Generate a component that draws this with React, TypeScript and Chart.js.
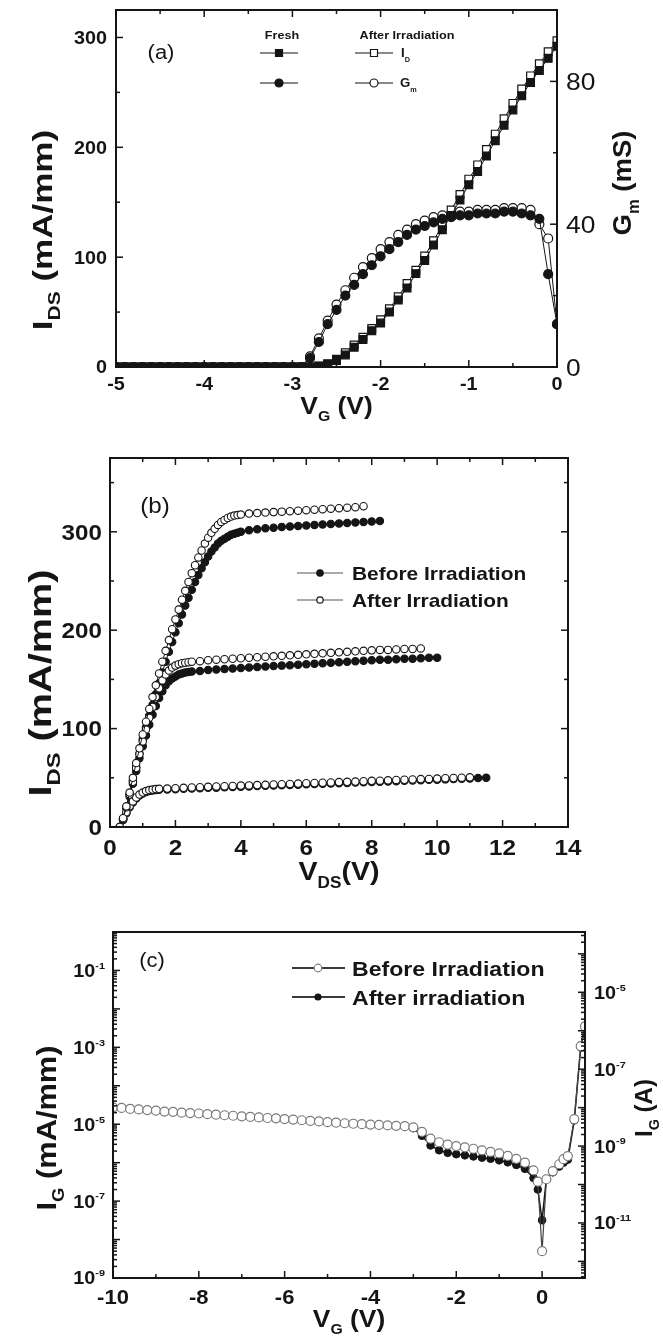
import React, { useEffect, useRef } from 'react';
import { Chart, registerables } from 'chart.js';

Chart.register(...registerables);

const FONT = '"Liberation Sans", Arial, Helvetica, sans-serif';
const INK = '#151515';
const SX = 1.1;

// ---------------- Panel (a): transfer characteristics ----------------
const A_VG = [-5, -4.9, -4.8, -4.7, -4.6, -4.5, -4.4, -4.3, -4.2, -4.1, -4, -3.9, -3.8, -3.7, -3.6, -3.5, -3.4, -3.3, -3.2, -3.1, -3, -2.9, -2.8, -2.7, -2.6, -2.5, -2.4, -2.3, -2.2, -2.1, -2, -1.9, -1.8, -1.7, -1.6, -1.5, -1.4, -1.3, -1.2, -1.1, -1, -0.9, -0.8, -0.7, -0.6, -0.5, -0.4, -0.3, -0.2, -0.1, 0];
const A_ID_FRESH = [0, 0, 0, 0, 0, 0, 0, 0, 0, 0, 0, 0, 0, 0, 0, 0, 0, 0, 0, 0, 0, 0, 0, 0.8, 2.5, 6, 11, 18, 25, 33, 40, 50, 61, 72, 85, 97, 111, 125, 138, 152, 166, 178, 192, 206, 220, 234, 247, 259, 270, 281, 292];
const A_ID_AFTER = [0, 0, 0, 0, 0, 0, 0, 0, 0, 0, 0, 0, 0, 0, 0, 0, 0, 0, 0, 0, 0, 0, 0, 1, 3, 7, 13, 20, 27, 35, 43, 53, 64, 76, 88, 101, 115, 129, 143, 157, 171, 184, 198, 212, 226, 240, 253, 265, 276, 287, 297];
const A_GM_FRESH = [0, 0, 0, 0, 0, 0, 0, 0, 0, 0, 0, 0, 0, 0, 0, 0, 0, 0, 0, 0, 0, 0, 2.5, 7, 12, 16, 20, 23, 26, 28.5, 31, 33, 35, 37, 38.5, 39.5, 40.5, 41.5, 42, 42.5, 42.5, 43, 43, 43, 43.5, 43.5, 43, 42.5, 41.5, 26, 12];
const A_GM_AFTER = [0, 0, 0, 0, 0, 0, 0, 0, 0, 0, 0, 0, 0, 0, 0, 0, 0, 0, 0, 0, 0, 0, 3, 8, 13, 17.5, 21.5, 25, 28, 30.5, 33, 35, 37, 38.5, 40, 41, 42, 42.5, 43, 43.5, 43.5, 44, 44, 44, 44.5, 44.5, 44.5, 44, 40, 36, 12];
const A_X_LABELS = [-5, -4, -3, -2, -1, 0];
const A_Y_LABELS = [0, 100, 200, 300];
const A_Y2_LABELS = [0, 40, 80];

// ---------------- Panel (b): output characteristics ----------------
// readings on the steep (linear) part of the curves
const B_VDS_RISE = [0.3, 0.4, 0.5, 0.6, 0.7, 0.8, 0.9, 1.0, 1.1, 1.2, 1.3, 1.4, 1.5, 1.6, 1.7, 1.8, 1.9, 2.0, 2.1, 2.2, 2.3, 2.4, 2.5, 2.6, 2.7, 2.8, 2.9, 3.0, 3.1, 3.2, 3.3, 3.4, 3.5, 3.6, 3.7, 3.8, 3.9, 4.0];
// readings on the saturated part of the curves
const B_VDS_SAT = [1.75, 2, 2.25, 2.5, 2.75, 3, 3.25, 3.5, 3.75, 4, 4.25, 4.5, 4.75, 5, 5.25, 5.5, 5.75, 6, 6.25, 6.5, 6.75, 7, 7.25, 7.5, 7.75, 8, 8.25, 8.5, 8.75, 9, 9.25, 9.5, 9.75, 10, 10.25, 10.5, 10.75, 11, 11.25, 11.5];

const B_BEFORE_1_RISE = [0, 8, 20, 33, 47, 61, 75, 89, 101, 113, 124, 135, 146, 157, 168, 178, 188, 198, 207, 216, 225, 233, 241, 249, 256, 263, 269, 275, 280, 284, 288, 291, 293, 295, 297, 298, 299, 300];
const B_BEFORE_1_SAT = [301.5, 302.5, 303.5, 304, 305, 305.5, 306, 306.5, 307, 307.5, 308, 308.5, 309, 309.5, 310, 310.5, 311];
const B_AFTER_1_RISE = [0, 9, 21, 35, 50, 65, 80, 94, 107, 120, 132, 144, 156, 168, 179, 190, 201, 211, 221, 231, 240, 249, 258, 266, 274, 281, 288, 294, 299, 303, 307, 310, 312, 314, 315.5, 316.5, 317, 317.5];
const B_AFTER_1_SAT = [318.5, 319, 319.5, 320, 320.5, 321, 321.5, 322, 322.5, 323, 323.5, 324, 324.5, 325, 326];

const B_BEFORE_2_RISE = [0, 8, 19, 31, 44, 57, 70, 82, 93, 104, 114, 123, 131, 138, 144, 148, 151, 153, 155, 156, 157, 157.5, 158];
const B_BEFORE_2_SAT = [158.5, 159.5, 160, 160.5, 161, 161.5, 162, 162.5, 163, 163.5, 164, 164.5, 165, 165.5, 166, 166.5, 167, 167.5, 168, 168.5, 169, 169.5, 170, 170, 170.5, 171, 171, 171.5, 172, 172];
const B_AFTER_2_RISE = [0, 8.5, 20, 33, 46, 60, 74, 87, 99, 111, 122, 132, 141, 149, 155, 159, 162, 164, 165.5, 166.5, 167, 167.5, 168];
const B_AFTER_2_SAT = [168.5, 169.5, 170, 170.5, 171, 171.5, 172, 172.5, 173, 173.5, 174, 174.5, 175, 175.5, 176, 176.5, 177, 177.5, 178, 178.5, 179, 179.5, 180, 180, 180.5, 181, 181, 181.5];

const B_BEFORE_3_RISE = [0, 7, 14, 20, 25, 29, 32, 34, 35.5, 36.5, 37, 37.5, 37.8];
const B_BEFORE_3_SAT = [38, 38.4, 38.8, 39.2, 39.4, 39.8, 40, 40.3, 40.7, 40.9, 41.2, 41.6, 41.8, 42.1, 42.5, 42.7, 43, 43.4, 43.6, 43.9, 44.3, 44.5, 44.8, 45.2, 45.4, 45.7, 46.1, 46.3, 46.6, 47, 47.2, 47.5, 47.9, 48.1, 48.4, 48.8, 49, 49.3, 49.7, 50];
const B_AFTER_3_RISE = [0, 7.5, 15, 21, 26, 30, 33, 35, 36.5, 37.5, 38, 38.5, 38.8];
const B_AFTER_3_SAT = [39, 39.4, 39.8, 40.2, 40.5, 40.8, 41.2, 41.4, 41.7, 42.1, 42.3, 42.6, 42.9, 43.3, 43.5, 43.8, 44.1, 44.5, 44.7, 45, 45.3, 45.7, 45.9, 46.2, 46.5, 46.9, 47.1, 47.4, 47.8, 48, 48.3, 48.7, 48.9, 49.2, 49.6, 49.8, 50.1, 50.5];

const B_OFF_VDS = [0.25, 12.25];
const B_OFF_ID = [0, 0];
const B_X_LABELS = [0, 2, 4, 6, 8, 10, 12, 14];
const B_Y_LABELS = [0, 100, 200, 300];

// ---------------- Panel (c): gate leakage ----------------
const C_VG = [-10, -9.8, -9.6, -9.4, -9.2, -9, -8.8, -8.6, -8.4, -8.2, -8, -7.8, -7.6, -7.4, -7.2, -7, -6.8, -6.6, -6.4, -6.2, -6, -5.8, -5.6, -5.4, -5.2, -5, -4.8, -4.6, -4.4, -4.2, -4, -3.8, -3.6, -3.4, -3.2, -3, -2.8, -2.6, -2.4, -2.2, -2, -1.8, -1.6, -1.4, -1.2, -1, -0.8, -0.6, -0.4, -0.2, -0.1, 0, 0.1, 0.25, 0.4, 0.5, 0.6, 0.75, 0.9, 1.0];
const C_IG_BEFORE = [2.75e-5, 2.65e-5, 2.5e-5, 2.42e-5, 2.33e-5, 2.25e-5, 2.13e-5, 2.1e-5, 2.0e-5, 1.95e-5, 1.9e-5, 1.83e-5, 1.77e-5, 1.71e-5, 1.66e-5, 1.6e-5, 1.55e-5, 1.5e-5, 1.45e-5, 1.42e-5, 1.36e-5, 1.32e-5, 1.27e-5, 1.22e-5, 1.18e-5, 1.13e-5, 1.1e-5, 1.06e-5, 1.03e-5, 1.0e-5, 9.8e-6, 9.6e-6, 9.3e-6, 9.1e-6, 8.9e-6, 8.3e-6, 6.3e-6, 4.2e-6, 3.4e-6, 2.95e-6, 2.7e-6, 2.5e-6, 2.3e-6, 2.1e-6, 1.9e-6, 1.74e-6, 1.5e-6, 1.26e-6, 1.0e-6, 6.3e-7, 3.2e-7, 5.0e-9, 3.7e-7, 6.0e-7, 9.1e-7, 1.23e-6, 1.48e-6, 1.35e-5, 1.07e-3, 3.5e-3];
const C_IG_AFTER = [2.7e-5, 2.6e-5, 2.5e-5, 2.4e-5, 2.3e-5, 2.22e-5, 2.12e-5, 2.08e-5, 2.0e-5, 1.94e-5, 1.88e-5, 1.82e-5, 1.76e-5, 1.7e-5, 1.65e-5, 1.6e-5, 1.54e-5, 1.49e-5, 1.44e-5, 1.41e-5, 1.35e-5, 1.31e-5, 1.26e-5, 1.21e-5, 1.17e-5, 1.12e-5, 1.09e-5, 1.05e-5, 1.02e-5, 9.9e-6, 9.7e-6, 9.5e-6, 9.2e-6, 9.0e-6, 8.8e-6, 7.9e-6, 5.0e-6, 2.8e-6, 2.1e-6, 1.8e-6, 1.66e-6, 1.55e-6, 1.45e-6, 1.35e-6, 1.26e-6, 1.15e-6, 1.02e-6, 8.7e-7, 6.9e-7, 4.0e-7, 2.0e-7, 3.2e-8, 3.8e-7, 5.6e-7, 7.9e-7, 1.0e-6, 1.2e-6, 1.26e-5, 1.0e-3, 3.5e-3];
const C_X_LABELS = [-10, -8, -6, -4, -2, 0];
const C_Y_EXPONENTS = [-1, -3, -5, -7, -9];
const C_Y2_EXPONENTS = [-5, -7, -9, -11];

// ---------------- drawing helpers ----------------
type Part = { t: string; s?: number; dy?: number };
type RichOpts = { bold?: boolean; align?: 'left' | 'center' | 'right'; rot?: number; sx?: number; color?: string };

function rich(ctx: CanvasRenderingContext2D, parts: Part[], x: number, y: number, size: number, o: RichOpts = {}) {
  const weight = o.bold ? 'bold ' : '';
  const sx = o.sx ?? (o.rot ? 1 : SX);
  ctx.save();
  ctx.translate(x, y);
  if (o.rot) ctx.rotate(o.rot);
  ctx.scale(sx, 1);
  ctx.fillStyle = o.color ?? INK;
  ctx.textBaseline = 'alphabetic';
  ctx.textAlign = 'left';
  const fonts = parts.map((p) => `${weight}${(size * (p.s ?? 1)).toFixed(1)}px ${FONT}`);
  const ws = parts.map((p, i) => {
    ctx.font = fonts[i];
    return ctx.measureText(p.t).width;
  });
  const total = ws.reduce((s, w) => s + w, 0);
  let cx = o.align === 'right' ? -total : o.align === 'left' ? 0 : -total / 2;
  const base = size * 0.358;
  parts.forEach((p, i) => {
    ctx.font = fonts[i];
    ctx.fillText(p.t, cx, base + (p.dy ?? 0) * size);
    cx += ws[i];
  });
  ctx.restore();
}

function seg(ctx: CanvasRenderingContext2D, x1: number, y1: number, x2: number, y2: number) {
  ctx.beginPath();
  ctx.moveTo(x1, y1);
  ctx.lineTo(x2, y2);
  ctx.stroke();
}

function frame(ctx: CanvasRenderingContext2D, a: any) {
  ctx.lineWidth = 2;
  ctx.strokeStyle = INK;
  ctx.strokeRect(a.left, a.top, a.right - a.left, a.bottom - a.top);
}

function xTicks(chart: any, from: number, to: number, step: number, majorEvery: number, top: boolean) {
  const { ctx, chartArea: a } = chart;
  const sc = chart.scales.x;
  ctx.lineWidth = 1.5;
  ctx.strokeStyle = INK;
  const n = Math.round((to - from) / step);
  for (let i = 0; i <= n; i++) {
    const v = from + i * step;
    const p = sc.getPixelForValue(v);
    const L = i % majorEvery === 0 ? 7 : 4;
    seg(ctx, p, a.bottom, p, a.bottom - L);
    if (top) seg(ctx, p, a.top, p, a.top + L);
  }
}

function yTicks(chart: any, id: string, from: number, to: number, step: number, majorEvery: number, side: 'left' | 'right') {
  const { ctx, chartArea: a } = chart;
  const sc = chart.scales[id];
  ctx.lineWidth = 1.5;
  ctx.strokeStyle = INK;
  const n = Math.round((to - from) / step);
  for (let i = 0; i <= n; i++) {
    const v = from + i * step;
    const p = sc.getPixelForValue(v);
    const L = i % majorEvery === 0 ? 7 : 4;
    if (side === 'left') seg(ctx, a.left, p, a.left + L, p);
    else seg(ctx, a.right, p, a.right - L, p);
  }
}

function logTicks(chart: any, id: string, side: 'left' | 'right', eLo: number, eHi: number) {
  const { ctx, chartArea: a } = chart;
  const sc = chart.scales[id];
  ctx.lineWidth = 1.5;
  ctx.strokeStyle = INK;
  for (let e = eLo; e <= eHi; e++) {
    for (let k = 1; k <= 9; k++) {
      const v = k * Math.pow(10, e);
      if (v < sc.min * 0.999 || v > sc.max * 1.001) continue;
      const p = sc.getPixelForValue(v);
      const L = k === 1 ? 7 : 4;
      if (side === 'left') seg(ctx, a.left, p, a.left + L, p);
      else seg(ctx, a.right, p, a.right - L, p);
    }
  }
}

function mark(ctx: CanvasRenderingContext2D, kind: 'rect' | 'circle', x: number, y: number, r: number, fill: string, stroke: string) {
  ctx.save();
  ctx.fillStyle = fill;
  ctx.strokeStyle = stroke;
  ctx.lineWidth = 1.2;
  ctx.beginPath();
  if (kind === 'rect') ctx.rect(x - r, y - r, 2 * r, 2 * r);
  else ctx.arc(x, y, r, 0, Math.PI * 2);
  ctx.fill();
  ctx.stroke();
  ctx.restore();
}

function pts(xs: number[], ys: number[]) {
  return ys.map((y, i) => ({ x: xs[i], y }));
}

// join the steep-part readings with the saturation readings of one curve
function curve(rise: number[], sat: number[]) {
  const last = B_VDS_RISE[rise.length - 1];
  const satX = B_VDS_SAT.filter((v) => v > last + 1e-9);
  return [...pts(B_VDS_RISE, rise), ...pts(satX, sat)];
}

const baseOptions = (padding: any, scales: any) => ({
  animation: false,
  responsive: false,
  maintainAspectRatio: false,
  devicePixelRatio: 1,
  events: [],
  layout: { padding },
  plugins: { legend: { display: false }, tooltip: { enabled: false } },
  scales,
});

const ROT = -Math.PI / 2;

// ---------------- chart configs ----------------
function configA(): any {
  const line = (data: any, axis: string, style: string, r: number, fill: string, order: number) => ({
    data,
    yAxisID: axis,
    showLine: true,
    borderColor: INK,
    borderWidth: 1,
    pointStyle: style,
    pointRadius: r,
    pointBackgroundColor: fill,
    pointBorderColor: INK,
    pointBorderWidth: 1.2,
    order,
  });
  const plugin = {
    id: 'panelA',
    afterDraw(chart: any) {
      const { ctx, chartArea: a, scales } = chart;
      ctx.save();
      frame(ctx, a);
      xTicks(chart, -5, 0, 0.5, 2, true);
      yTicks(chart, 'y', 0, 300, 50, 2, 'left');
      yTicks(chart, 'y2', 0, 100, 20, 2, 'right');
      A_X_LABELS.forEach((v) => rich(ctx, [{ t: String(v) }], scales.x.getPixelForValue(v), a.bottom + 17, 18, { bold: true, align: 'center' }));
      A_Y_LABELS.forEach((v) => rich(ctx, [{ t: String(v) }], a.left - 9, scales.y.getPixelForValue(v), 18, { bold: true, align: 'right' }));
      A_Y2_LABELS.forEach((v) => rich(ctx, [{ t: String(v) }], a.right + 9, scales.y2.getPixelForValue(v), 24, { align: 'left' }));
      rich(ctx, [{ t: 'I' }, { t: 'DS', s: 0.6, dy: 0.3 }, { t: ' (mA/mm)' }], 42, 230, 28, { bold: true, rot: ROT, sx: 1.25 });
      rich(ctx, [{ t: 'G' }, { t: 'm', s: 0.6, dy: 0.3 }, { t: ' (mS)' }], 622, 183, 26, { bold: true, rot: ROT, sx: 1.06 });
      rich(ctx, [{ t: 'V' }, { t: 'G', s: 0.6, dy: 0.3 }, { t: ' (V)' }], (a.left + a.right) / 2, 405, 24, { bold: true });
      rich(ctx, [{ t: '(a)' }], 161, 52, 20, {});
      // legend
      rich(ctx, [{ t: 'Fresh' }], 282, 35, 11.5, { bold: true });
      rich(ctx, [{ t: 'After Irradiation' }], 407, 35, 11.5, { bold: true });
      ctx.lineWidth = 1.2;
      ctx.strokeStyle = INK;
      seg(ctx, 260, 53, 298, 53);
      seg(ctx, 355, 53, 393, 53);
      seg(ctx, 260, 83, 298, 83);
      seg(ctx, 355, 83, 393, 83);
      mark(ctx, 'rect', 279, 53, 3.5, INK, INK);
      mark(ctx, 'rect', 374, 53, 3.5, '#fff', INK);
      mark(ctx, 'circle', 279, 83, 4, INK, INK);
      mark(ctx, 'circle', 374, 83, 4, '#fff', INK);
      rich(ctx, [{ t: 'I' }, { t: 'D', s: 0.55, dy: 0.4 }], 401, 53, 12, { bold: true, align: 'left' });
      rich(ctx, [{ t: 'G' }, { t: 'm', s: 0.55, dy: 0.4 }], 400, 83, 12, { bold: true, align: 'left' });
      ctx.restore();
    },
  };
  return {
    type: 'scatter',
    data: {
      datasets: [
        { label: 'Fresh I_D', ...line(pts(A_VG, A_ID_FRESH), 'y', 'rect', 5.5, INK, 0) },
        { label: 'Fresh G_m', ...line(pts(A_VG, A_GM_FRESH), 'y2', 'circle', 4.5, INK, 1) },
        { label: 'After Irradiation I_D', ...line(pts(A_VG, A_ID_AFTER), 'y', 'rect', 5.5, '#fff', 2) },
        { label: 'After Irradiation G_m', ...line(pts(A_VG, A_GM_AFTER), 'y2', 'circle', 4.5, '#fff', 3) },
      ],
    },
    options: baseOptions({ left: 116, top: 10, right: 106, bottom: 63 }, {
      x: { type: 'linear', min: -5, max: 0, display: false },
      y: { type: 'linear', min: 0, max: 325, display: false },
      y2: { type: 'linear', position: 'right', min: 0, max: 100, display: false },
    }),
    plugins: [plugin],
  };
}

function configB(): any {
  const ds = (label: string, data: any[], fill: string, order: number) => ({
    label,
    data,
    showLine: true,
    borderColor: INK,
    borderWidth: 1,
    pointStyle: 'circle',
    pointRadius: 3.7,
    pointBackgroundColor: fill,
    pointBorderColor: INK,
    pointBorderWidth: 1.1,
    order,
  });
  const plugin = {
    id: 'panelB',
    afterDraw(chart: any) {
      const { ctx, chartArea: a, scales } = chart;
      ctx.save();
      frame(ctx, a);
      xTicks(chart, 0, 14, 1, 2, true);
      yTicks(chart, 'y', 0, 350, 50, 2, 'left');
      yTicks(chart, 'y', 0, 350, 50, 2, 'right');
      B_X_LABELS.forEach((v) => rich(ctx, [{ t: String(v) }], scales.x.getPixelForValue(v), a.bottom + 20, 22, { bold: true, align: 'center' }));
      B_Y_LABELS.forEach((v) => rich(ctx, [{ t: String(v) }], a.left - 8, scales.y.getPixelForValue(v), 22, { bold: true, align: 'right' }));
      rich(ctx, [{ t: 'I' }, { t: 'DS', s: 0.6, dy: 0.3 }, { t: ' (mA/mm)' }], 40, 253, 31, { bold: true, rot: ROT, sx: 1.28 });
      rich(ctx, [{ t: 'V' }, { t: 'DS', s: 0.6, dy: 0.3 }, { t: '(V)' }], (a.left + a.right) / 2, 441, 26, { bold: true });
      rich(ctx, [{ t: '(b)' }], 155, 75, 22, {});
      // legend
      ctx.lineWidth = 1;
      ctx.strokeStyle = '#555';
      seg(ctx, 297, 143, 343, 143);
      seg(ctx, 297, 170, 343, 170);
      mark(ctx, 'circle', 320, 143, 3.2, INK, INK);
      mark(ctx, 'circle', 320, 170, 3.2, '#fff', INK);
      rich(ctx, [{ t: 'Before Irradiation' }], 352, 143, 19, { bold: true, align: 'left' });
      rich(ctx, [{ t: 'After Irradiation' }], 352, 170, 19, { bold: true, align: 'left' });
      ctx.restore();
    },
  };
  return {
    type: 'scatter',
    data: {
      datasets: [
        ds('After Irradiation 1', curve(B_AFTER_1_RISE, B_AFTER_1_SAT), '#fff', 0),
        ds('After Irradiation 2', curve(B_AFTER_2_RISE, B_AFTER_2_SAT), '#fff', 1),
        ds('After Irradiation 3', curve(B_AFTER_3_RISE, B_AFTER_3_SAT), '#fff', 2),
        ds('Before Irradiation 1', curve(B_BEFORE_1_RISE, B_BEFORE_1_SAT), INK, 3),
        ds('Before Irradiation 2', curve(B_BEFORE_2_RISE, B_BEFORE_2_SAT), INK, 4),
        ds('Before Irradiation 3', curve(B_BEFORE_3_RISE, B_BEFORE_3_SAT), INK, 5),
        {
          label: 'Pinch-off',
          data: pts(B_OFF_VDS, B_OFF_ID),
          showLine: true,
          borderColor: INK,
          borderWidth: 1.5,
          pointRadius: 0,
          order: 6,
        },
      ],
    },
    options: baseOptions({ left: 110, top: 28, right: 95, bottom: 68 }, {
      x: { type: 'linear', min: 0, max: 14, display: false },
      y: { type: 'linear', min: 0, max: 375, display: false },
    }),
    plugins: [plugin],
  };
}

function configC(): any {
  const plugin = {
    id: 'panelC',
    afterDraw(chart: any) {
      const { ctx, chartArea: a, scales } = chart;
      ctx.save();
      frame(ctx, a);
      xTicks(chart, -10, 1, 1, 2, false);
      logTicks(chart, 'y', 'left', -9, 0);
      logTicks(chart, 'y2', 'right', -13, -3);
      C_X_LABELS.forEach((v) => rich(ctx, [{ t: String(v) }], scales.x.getPixelForValue(v), a.bottom + 19, 20, { bold: true, align: 'center' }));
      C_Y_EXPONENTS.forEach((e) =>
        rich(ctx, [{ t: '10' }, { t: String(e), s: 0.55, dy: -0.45 }], a.left - 8, scales.y.getPixelForValue(Math.pow(10, e)), 18, { bold: true, align: 'right' })
      );
      C_Y2_EXPONENTS.forEach((e) =>
        rich(ctx, [{ t: '10' }, { t: String(e), s: 0.55, dy: -0.45 }], a.right + 9, scales.y2.getPixelForValue(Math.pow(10, e)), 18, { bold: true, align: 'left' })
      );
      rich(ctx, [{ t: 'I' }, { t: 'G', s: 0.6, dy: 0.3 }, { t: ' (mA/mm)' }], 46, 248, 28, { bold: true, rot: ROT, sx: 1.1 });
      rich(ctx, [{ t: 'I' }, { t: 'G', s: 0.6, dy: 0.3 }, { t: ' (A)' }], 643, 228, 24, { bold: true, rot: ROT });
      rich(ctx, [{ t: 'V' }, { t: 'G', s: 0.6, dy: 0.3 }, { t: ' (V)' }], 349, 438, 24, { bold: true });
      rich(ctx, [{ t: '(c)' }], 152, 80, 20, {});
      // legend
      ctx.lineWidth = 2;
      ctx.strokeStyle = '#3a3a3a';
      seg(ctx, 292, 88, 345, 88);
      seg(ctx, 292, 117, 345, 117);
      mark(ctx, 'circle', 318, 88, 3.8, '#fff', '#808080');
      mark(ctx, 'circle', 318, 117, 3, INK, INK);
      rich(ctx, [{ t: 'Before Irradiation' }], 352, 88, 21, { bold: true, align: 'left' });
      rich(ctx, [{ t: 'After irradiation' }], 352, 117, 21, { bold: true, align: 'left' });
      ctx.restore();
    },
  };
  return {
    type: 'scatter',
    data: {
      datasets: [
        {
          label: 'Before Irradiation',
          data: pts(C_VG, C_IG_BEFORE),
          showLine: true,
          borderColor: '#444',
          borderWidth: 1.2,
          pointStyle: 'circle',
          pointRadius: 4.5,
          pointBackgroundColor: '#fff',
          pointBorderColor: '#7a7a7a',
          pointBorderWidth: 1.2,
          order: 0,
        },
        {
          label: 'After irradiation',
          data: pts(C_VG, C_IG_AFTER),
          showLine: true,
          borderColor: INK,
          borderWidth: 1.5,
          pointStyle: 'circle',
          pointRadius: 3.8,
          pointBackgroundColor: INK,
          pointBorderColor: INK,
          pointBorderWidth: 1,
          order: 1,
        },
      ],
    },
    options: baseOptions({ left: 113, top: 52, right: 78, bottom: 61 }, {
      x: { type: 'linear', min: -10, max: 1, display: false },
      y: { type: 'logarithmic', min: 1e-9, max: 1, display: false },
      y2: { type: 'logarithmic', position: 'right', min: 3.7e-13, max: 3.7e-4, display: false },
    }),
    plugins: [plugin],
  };
}

function Panel({ top, height, build }: { top: number; height: number; build: () => any }) {
  const ref = useRef<HTMLCanvasElement>(null);
  useEffect(() => {
    const chart = new Chart(ref.current as HTMLCanvasElement, build());
    return () => chart.destroy();
  }, []);
  return (
    <canvas
      ref={ref}
      width={663}
      height={height}
      style={{ position: 'absolute', left: 0, top, width: 663, height, display: 'block' }}
    />
  );
}

export default function App() {
  return (
    <div style={{ position: 'absolute', left: 0, top: 0, width: 663, height: 1339, background: '#fff', overflow: 'hidden' }}>
      <Panel top={0} height={430} build={configA} />
      <Panel top={430} height={465} build={configB} />
      <Panel top={880} height={459} build={configC} />
    </div>
  );
}
